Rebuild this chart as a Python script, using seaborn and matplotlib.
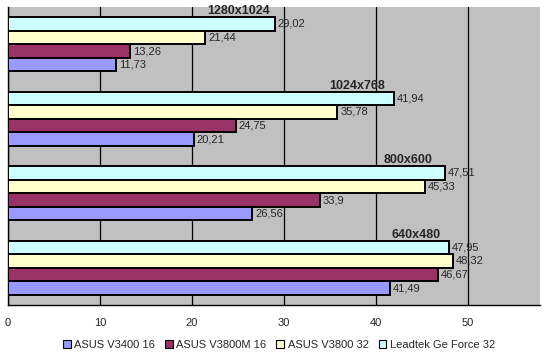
import pandas as pd
import matplotlib
matplotlib.use("Agg")
import matplotlib.pyplot as plt
import seaborn as sns
from matplotlib.patches import Patch

# data (top group first, as drawn)
resolutions = ["1280x1024", "1024x768", "800x600", "640x480"]
cards = ["ASUS V3400 16", "ASUS V3800M 16", "ASUS V3800 32", "Leadtek Ge Force 32"]
v3400 = [11.73, 20.21, 26.56, 41.49]
v3800m = [13.26, 24.75, 33.9, 46.67]
v3800 = [21.44, 35.78, 45.33, 48.32]
leadtek = [29.02, 41.94, 47.51, 47.95]
colors = ["#9999FF", "#993366", "#FFFFCC", "#CCFFFF"]

series = [v3400, v3800m, v3800, leadtek]
rows = []
for card, vals in zip(cards, series):
    for res, v in zip(resolutions, vals):
        rows.append({"res": res, "card": card, "fps": v})
df = pd.DataFrame(rows)

sns.set_style("white")
plt.rcParams["font.family"] = ["Liberation Sans", "DejaVu Sans"]

fig = plt.figure(figsize=(5.44, 3.55), dpi=100)
ax = fig.add_axes([8/544, 50/355, 532/544, 298/355])
ax.set_facecolor("#C0C0C0")

# top-to-bottom inside each group: Leadtek, V3800, V3800M, V3400
hue_order = cards[::-1]
pal = dict(zip(cards, colors))
sns.barplot(data=df, y="res", x="fps", hue="card", order=resolutions,
            hue_order=hue_order, palette=pal, width=0.725, gap=0, orient="h",
            edgecolor="black", linewidth=1.4, saturation=1, legend=False,
            errorbar=None, ax=ax, zorder=3)

for cont in ax.containers:
    labels = [f"{b.get_width():g}".replace(".", ",") for b in cont]
    ax.bar_label(cont, labels=labels, padding=2, fontsize=8, zorder=4)

# group titles
for i, res in enumerate(resolutions):
    top = max(s[i] for s in series)
    ax.text(top - 4, i - 0.3625, res, ha="center", va="bottom",
            fontsize=9, fontweight="bold", zorder=5)

ax.set_xlim(0, 57.8)
ax.set_ylim(3.5, -0.5)
ax.set_xticks(range(0, 60, 10))
ax.set_yticks([])
ax.set_yticks([-0.5, 0.5, 1.5, 2.5, 3.5], minor=True)
ax.tick_params(axis="y", which="minor", length=3, direction="in", color="black")
ax.tick_params(axis="x", length=3, direction="out", labelsize=8, pad=6, color="black")
ax.grid(axis="x", color="black", linewidth=0.9, zorder=0)
ax.set_axisbelow(True)
ax.set_xlabel("")
ax.set_ylabel("")
for side in ["top", "right"]:
    ax.spines[side].set_visible(False)
for side in ["left", "bottom"]:
    ax.spines[side].set_color("black")
    ax.spines[side].set_linewidth(1)

handles = [Patch(facecolor=c, edgecolor="black", linewidth=0.8) for c in colors]
fig.legend(handles, cards, loc="center", bbox_to_anchor=(0.513, 0.028), ncol=4,
           frameon=False, fontsize=8, handlelength=0.7, handleheight=0.7,
           handletextpad=0.3, columnspacing=0.9, borderpad=0)

fig.savefig("out.png", dpi=100)
